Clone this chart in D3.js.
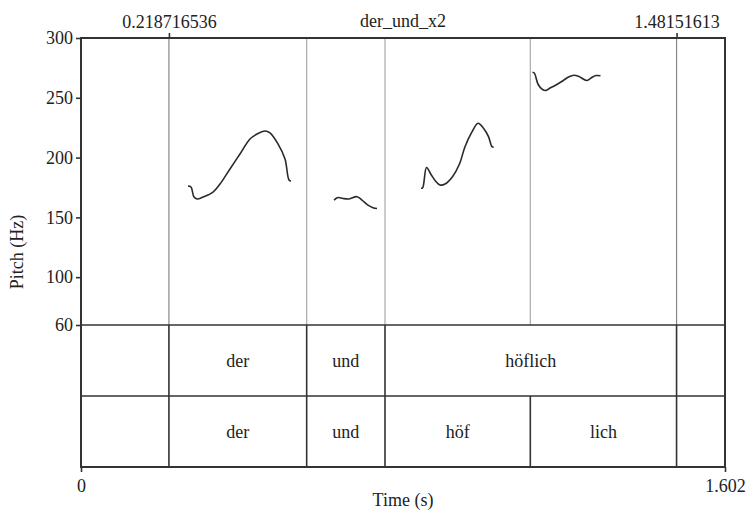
<!DOCTYPE html>
<html>
<head>
<meta charset="utf-8">
<script src="https://cdn.jsdelivr.net/npm/d3@7/dist/d3.min.js"></script>
<style>
  html, body { margin: 0; padding: 0; background: #fff; }
  svg { display: block; }
  text { font-family: "Liberation Serif", "Times New Roman", serif; fill: #222; }
</style>
</head>
<body>
<svg id="chart" width="748" height="514"></svg>
<script>
// Pitch contour of "der und höflich" (time in s, F0 in Hz), one array per voiced stretch
const pitchDer = [
  [0.2662, 176.2], [0.2736, 175.4], [0.2811, 167.0], [0.2886, 165.4], [0.3035, 167.0],
  [0.3284, 171.2], [0.3458, 177.9], [0.3706, 190.5], [0.3955, 203.0], [0.4204, 215.5],
  [0.4378, 219.7], [0.4577, 222.2], [0.4701, 220.6], [0.4900, 211.4], [0.5075, 198.8],
  [0.5174, 181.3], [0.5224, 180.4]
];
const pitchUnd = [
  [0.6294, 164.5], [0.6393, 166.6], [0.6517, 165.8], [0.6667, 165.4], [0.6866, 167.3],
  [0.6990, 164.5], [0.7139, 160.3], [0.7264, 158.1], [0.7363, 157.4]
];
const pitchHoef = [
  [0.8458, 174.3], [0.8500, 174.8], [0.8595, 191.7], [0.8706, 185.9], [0.8818, 180.4],
  [0.8930, 177.1], [0.9055, 177.9], [0.9241, 184.0], [0.9415, 194.6], [0.9552, 209.1],
  [0.9719, 221.0], [0.9876, 228.7], [1.0012, 224.5], [1.0137, 217.5], [1.0224, 209.1],
  [1.0266, 208.7]
];
const pitchLich = [
  [1.1231, 271.4], [1.1276, 270.7], [1.1373, 261.1], [1.1480, 256.9], [1.1567, 256.1],
  [1.1667, 258.2], [1.1803, 260.5], [1.1998, 264.5], [1.2127, 267.4], [1.2264, 268.9],
  [1.2388, 267.8], [1.2580, 264.5], [1.2724, 267.4], [1.2811, 268.6], [1.2923, 268.4]
];
const pitchSegments = [pitchDer, pitchUnd, pitchHoef, pitchLich];

// TextGrid tiers: boundaries and interval labels
const tStart = 0, tEnd = 1.602;
const wordBoundaries = [0.218716536, 0.5614, 0.7562, 1.48151613];
const wordLabels = ["", "der", "und", "höflich", ""];
const syllableBoundaries = [0.218716536, 0.5614, 0.7562, 1.1177, 1.48151613];
const syllableLabels = ["", "der", "und", "höf", "lich", ""];
const markedTimes = [0.218716536, 1.48151613];
const fileName = "der_und_x2";

// Pitch axis
const pitchTicks = [60, 100, 150, 200, 250, 300];
const pitchMin = 60, pitchMax = 300;

const svg = d3.select("#chart");
const plotLeft = 81, plotRight = 725, plotTop = 38, pitchBottom = 325, tierH = 71;
const plotBottom = pitchBottom + 2 * tierH;

const x = d3.scaleLinear().domain([tStart, tEnd]).range([plotLeft, plotRight]);
const y = d3.scaleLinear().domain([pitchMin, pitchMax]).range([pitchBottom, plotTop]);

// vertical boundary lines crossing the pitch area
const allBounds = Array.from(new Set(wordBoundaries.concat(syllableBoundaries))).sort((a, b) => a - b);
svg.append("g").selectAll("line").data(allBounds).join("line")
  .attr("x1", d => x(d)).attr("x2", d => x(d))
  .attr("y1", plotTop).attr("y2", pitchBottom)
  .attr("stroke", d => markedTimes.includes(d) ? "#888" : "#aaa")
  .attr("stroke-width", 1.2);

// pitch contours
const line = d3.line().x(d => x(d[0])).y(d => y(d[1])).curve(d3.curveCatmullRom.alpha(0.5));
svg.append("g").selectAll("path").data(pitchSegments).join("path")
  .attr("d", line)
  .attr("fill", "none")
  .attr("stroke", "#2a2a2a")
  .attr("stroke-width", 1.6)
  .attr("stroke-linejoin", "round");

// tiers
function drawTier(bounds, labels, y0) {
  const g = svg.append("g");
  g.selectAll("line").data(bounds).join("line")
    .attr("x1", d => x(d)).attr("x2", d => x(d))
    .attr("y1", y0).attr("y2", y0 + tierH)
    .attr("stroke", "#333").attr("stroke-width", 1.6);
  const edges = [tStart].concat(bounds, [tEnd]);
  g.selectAll("text").data(labels).join("text")
    .attr("x", (d, i) => (x(edges[i]) + x(edges[i + 1])) / 2)
    .attr("y", y0 + tierH / 2)
    .attr("text-anchor", "middle")
    .attr("dominant-baseline", "central")
    .attr("font-size", 18)
    .text(d => d);
}
drawTier(wordBoundaries, wordLabels, pitchBottom);
drawTier(syllableBoundaries, syllableLabels, pitchBottom + tierH);

// horizontal tier separators
svg.append("g").selectAll("line").data([pitchBottom, pitchBottom + tierH]).join("line")
  .attr("x1", plotLeft).attr("x2", plotRight)
  .attr("y1", d => d).attr("y2", d => d)
  .attr("stroke", "#333").attr("stroke-width", 1.6);

// outer frame
svg.append("rect")
  .attr("x", plotLeft).attr("y", plotTop)
  .attr("width", plotRight - plotLeft).attr("height", plotBottom - plotTop)
  .attr("fill", "none").attr("stroke", "#333").attr("stroke-width", 2);

// left pitch axis
const yAxis = d3.axisLeft(y).tickValues(pitchTicks).tickSize(5).tickPadding(3).tickFormat(d3.format("d"));
const ya = svg.append("g").attr("transform", `translate(${plotLeft},0)`).call(yAxis);
ya.select(".domain").remove();
ya.selectAll(".tick line").attr("stroke", "#333").attr("stroke-width", 1.6);
ya.selectAll(".tick text").attr("font-size", 18).attr("fill", "#222")
  .attr("font-family", "Liberation Serif, serif");

// top axis: marked boundary times and file name
const xTop = d3.axisTop(x).tickValues(markedTimes).tickSize(5).tickPadding(5).tickFormat(d => String(d));
const xt = svg.append("g").attr("transform", `translate(0,${plotTop})`).call(xTop);
xt.select(".domain").remove();
xt.selectAll(".tick line").attr("stroke", "#333").attr("stroke-width", 1.6);
xt.selectAll(".tick text").attr("font-size", 18).attr("fill", "#222")
  .attr("font-family", "Liberation Serif, serif");
svg.append("text").attr("x", (plotLeft + plotRight) / 2).attr("y", 27)
  .attr("text-anchor", "middle").attr("font-size", 18).text(fileName);

// bottom axis: time range
const xBot = d3.axisBottom(x).tickValues([tStart, tEnd]).tickSize(5).tickPadding(7)
  .tickFormat(d => d === 0 ? "0" : d3.format(".3f")(d));
const xb = svg.append("g").attr("transform", `translate(0,${plotBottom})`).call(xBot);
xb.select(".domain").remove();
xb.selectAll(".tick line").attr("stroke", "#333").attr("stroke-width", 1.6);
xb.selectAll(".tick text").attr("font-size", 18).attr("fill", "#222")
  .attr("font-family", "Liberation Serif, serif");

// axis titles
svg.append("text").attr("x", (plotLeft + plotRight) / 2).attr("y", 506)
  .attr("text-anchor", "middle").attr("font-size", 18).text("Time (s)");
svg.append("text")
  .attr("transform", `translate(23,252) rotate(-90)`)
  .attr("text-anchor", "middle").attr("font-size", 18).text("Pitch (Hz)");
</script>
</body>
</html>
